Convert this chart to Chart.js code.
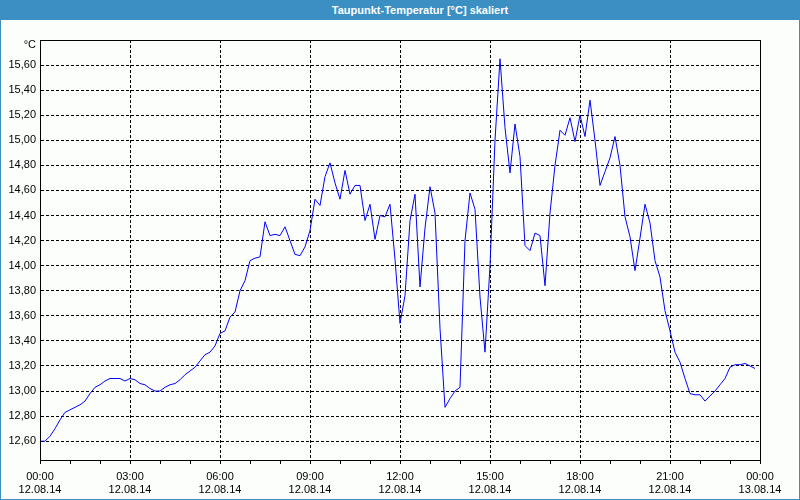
<!DOCTYPE html>
<html>
<head>
<meta charset="utf-8">
<script src="https://cdn.jsdelivr.net/npm/chart.js@4/dist/chart.umd.min.js"></script>
<style>
  html, body { margin: 0; padding: 0; background: #fff; }
  #wrap {
    width: 800px; height: 500px; box-sizing: border-box;
    border: 1px solid #3b8fc3; border-top: none; background: #fcfefc;
    position: relative;
  }
  #title {
    height: 20px; background: #3b8fc3; color: #fff; margin: 0 -1px;
    font: bold 11px "Liberation Sans", Arial, sans-serif; line-height: 20px;
    text-align: center; padding-left: 40px;
  }
  canvas { display: block; }
</style>
</head>
<body>
<div id="wrap">
  <div id="title">Taupunkt-Temperatur [°C] skaliert</div>
  <canvas id="chart" width="798" height="479"></canvas>
</div>
<script>
// dew point, one reading every 10 minutes from 12.08.14 00:00
const sampleMinutes = 10;
const dewPoint = [
  12.60, 12.60, 12.64, 12.70, 12.77, 12.83, 12.85, 12.87, 12.89, 12.92,
  12.98, 13.03, 13.05, 13.08, 13.10, 13.10, 13.10, 13.08, 13.10, 13.09,
  13.06, 13.05, 13.02, 13.00, 13.00, 13.03, 13.05, 13.06, 13.09, 13.13,
  13.16, 13.19, 13.24, 13.29, 13.31, 13.36, 13.46, 13.48, 13.59, 13.63,
  13.80, 13.88, 14.04, 14.06, 14.07, 14.35, 14.24, 14.25, 14.24, 14.31,
  14.20, 14.09, 14.08, 14.15, 14.28, 14.53, 14.48, 14.71, 14.82, 14.66,
  14.53, 14.76, 14.57, 14.64, 14.64, 14.36, 14.49, 14.21, 14.40, 14.39,
  14.49, 14.05, 13.54, 13.76, 14.36, 14.57, 13.83, 14.30, 14.63, 14.42,
  13.50, 12.87, 12.94, 13.00, 13.03, 14.20, 14.58, 14.45, 13.75, 13.31,
  14.00, 15.00, 15.65, 15.10, 14.74, 15.13, 14.87, 14.16, 14.12, 14.26,
  14.24, 13.84, 14.42, 14.80, 15.08, 15.04, 15.18, 14.99, 15.20, 15.03,
  15.32, 15.00, 14.64, 14.75, 14.86, 15.03, 14.80, 14.39, 14.23, 13.96,
  14.22, 14.49, 14.34, 14.04, 13.91, 13.64, 13.48, 13.31, 13.23, 13.10,
  12.98, 12.97, 12.97, 12.92, 12.96, 13.00, 13.05, 13.10, 13.19, 13.21,
  13.21, 13.22, 13.20, 13.18
];

const xTickTimes = ['00:00', '03:00', '06:00', '09:00', '12:00', '15:00', '18:00', '21:00', '00:00'];
const xTickDates = ['12.08.14', '12.08.14', '12.08.14', '12.08.14', '12.08.14', '12.08.14', '12.08.14', '12.08.14', '13.08.14'];
const yTicks = [12.6, 12.8, 13.0, 13.2, 13.4, 13.6, 13.8, 14.0, 14.2, 14.4, 14.6, 14.8, 15.0, 15.2, 15.4, 15.6];
const yUnit = '°C';

const font = { family: '"Liberation Sans", Arial, sans-serif', size: 11 };

const framePlugin = {
  id: 'frame',
  afterDraw(chart) {
    const { ctx, chartArea: a } = chart;
    ctx.save();
    ctx.strokeStyle = '#000';
    ctx.lineWidth = 1;
    ctx.strokeRect(a.left + 0.5, a.top + 0.5, a.right - a.left, a.bottom - a.top);
    ctx.fillStyle = '#000';
    ctx.font = '11px "Liberation Sans", Arial, sans-serif';
    ctx.textAlign = 'right';
    ctx.textBaseline = 'middle';
    ctx.fillText(yUnit, a.left - 4, a.top + 5);
    ctx.restore();
  }
};

new Chart(document.getElementById('chart'), {
  type: 'line',
  data: {
    datasets: [{
      data: dewPoint.map((v, i) => ({ x: i * sampleMinutes, y: v })),
      borderColor: '#0000ff',
      borderWidth: 1,
      pointRadius: 0,
      tension: 0,
      fill: false
    }]
  },
  options: {
    responsive: false,
    animation: false,
    layout: { padding: { left: 0, right: 39, top: 20, bottom: 0 } },
    plugins: { legend: { display: false }, tooltip: { enabled: false }, title: { display: false } },
    scales: {
      x: {
        type: 'linear',
        min: 0,
        max: 1440,
        afterBuildTicks: scale => {
          const t = [];
          for (let m = 0; m <= 1440; m += 60) t.push({ value: m });
          scale.ticks = t;
        },
        afterFit: scale => { scale.height = 39; },
        ticks: {
          autoSkip: false,
          maxRotation: 0,
          color: '#000',
          font: font,
          padding: 6,
          callback: v => v % 180 === 0 ? [xTickTimes[v / 180], xTickDates[v / 180]] : ''
        },
        grid: {
          color: c => (c.tick && c.tick.value % 180 === 0) ? '#000' : 'rgba(0,0,0,0)',
          tickColor: '#000',
          tickLength: 4,
          lineWidth: 1
        },
        border: { color: '#000', dash: [3, 2] }
      },
      y: {
        min: 12.45,
        max: 15.8,
        afterBuildTicks: scale => { scale.ticks = yTicks.map(v => ({ value: v })); },
        afterFit: scale => { scale.width = 39; },
        ticks: {
          color: '#000',
          font: font,
          padding: 4,
          callback: v => v.toFixed(2).replace('.', ',')
        },
        grid: { color: '#000', drawTicks: false, lineWidth: 1 },
        border: { color: '#000', dash: [3, 2] }
      }
    }
  },
  plugins: [framePlugin]
});
</script>
</body>
</html>
